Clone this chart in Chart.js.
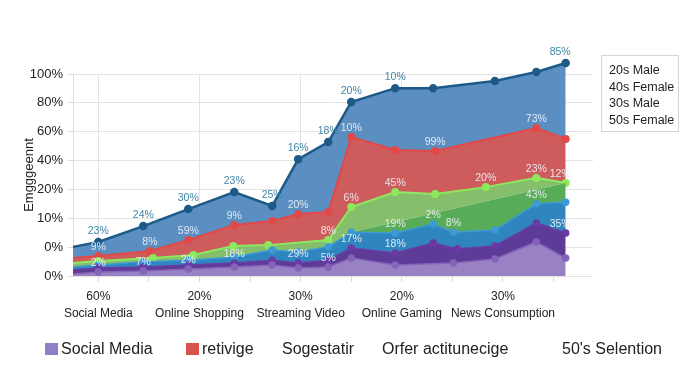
<!DOCTYPE html>
<html><head><meta charset="utf-8">
<script src="https://cdn.jsdelivr.net/npm/chart.js@4/dist/chart.umd.min.js"></script>
<style>
html,body{margin:0;padding:0;background:#fff;}
#wrap{position:relative;width:700px;height:382px;font-family:"Liberation Sans",Arial,sans-serif;color:#222;}
canvas{position:absolute;left:0;top:0;}
.lg{position:absolute;font-size:16px;white-space:nowrap;line-height:18px;top:340px;}
.box{display:inline-block;width:13px;height:12px;margin-right:3px;vertical-align:-1px;}
#rlg{position:absolute;left:601px;top:55px;width:78px;height:77px;border:1px solid #d6d6d6;font-size:12.5px;line-height:16.6px;padding:6px 0 0 7px;box-sizing:border-box;white-space:nowrap;}
</style></head>
<body><div id="wrap"><canvas id="c" width="700" height="382"></canvas>
<div id="rlg"></div>
<div id="blg"></div>
</div>
<script>
// ---- data ----
const categories = ['Social Media','Online Shopping','Streaming Video','Online Gaming','News Consumption'];
const categoryShares = ['60%','20%','30%','20%','30%'];
const yTickLabels = ['0%','0%','10%','20%','40%','60%','80%','100%'];
const yAxisTitle = 'Emgggeennt';
const rightLegendNames = ['20s Male','40s Female','30s Male','50s Female'];
const bottomLegendNames = ['Social Media','retivige','Sogestatir','Orfer actitunecige',"50's Selention"];

const lightPurpleX = [-0.25,0,0.445,0.889,1.344,1.719,1.976,2.273,2.5,2.935,3.51,3.92,4.33,4.62];
const lightPurpleY = [0.7,1.4,1.7,2.4,3.1,3.8,2.8,3.1,6.2,3.8,4.5,5.9,11.8,6.2];
const lightPurpleLabels = [null,'2%','7%','2%',null,null,null,'5%',null,null,null,null,null,null];

const darkPurpleX = [-0.25,0,0.445,0.889,1.344,1.719,1.976,2.273,2.5,2.935,3.31,3.55,3.92,4.33,4.62];
const darkPurpleY = [2.1,2.8,3.1,3.8,4.5,5.5,4.5,5.5,9.7,8.0,11.4,9.4,10.4,18.4,14.9];
const darkPurpleLabels = [null,null,null,null,'18%',null,'29%',null,'17%','18%',null,null,null,null,'35%'];

const blueX = [-0.25,0,0.445,0.889,1.344,1.719,1.976,2.273,2.5,2.935,3.31,3.51,3.92,4.33,4.62];
const blueY = [3.1,3.8,4.9,5.5,6.6,9.0,8.3,10.1,15.2,14.9,18.0,15.2,15.9,25.0,25.6];
const blueLabels = [null,null,null,null,null,null,null,null,null,'19%','2%','8%',null,'43%',null];

const darkGreenX = [-0.25,0,0.445,0.889,1.344,1.719,1.976,2.273,2.5,4.62];
const darkGreenY = [3.1,3.8,4.9,5.5,6.6,9.0,8.3,10.1,15.2,32.2];

const greenX = [-0.25,0,0.54,0.94,1.334,1.68,2.273,2.5,2.935,3.33,3.83,4.33,4.62];
const greenY = [4.5,5.2,6.2,7.3,10.4,10.7,12.5,23.9,29.1,28.4,30.8,34.0,32.2];
const greenLabels = [null,null,null,null,null,null,'8%','6%','45%',null,'20%','23%','12%'];

const redX = [-0.25,0,0.51,0.89,1.344,1.719,1.976,2.273,2.5,2.935,3.33,4.33,4.62];
const redY = [6.2,6.9,8.7,12.5,17.7,19.1,21.5,22.2,48.2,43.7,43.3,51.3,47.5];
const redLabels = [null,'9%','8%','59%','9%',null,'20%',null,'10%',null,'99%','73%',null];

const topX = [-0.25,0,0.445,0.889,1.344,1.719,1.976,2.273,2.5,2.935,3.31,3.92,4.33,4.62];
const topY = [10.1,11.8,17.3,23.2,29.1,24.3,40.5,46.4,60.3,65.1,65.1,67.6,70.7,73.8];
const topLabels = [null,'23%','24%','30%','23%','25%','16%','18%','20%','10%',null,null,null,'85%'];

// ---- build ----
const pts = (xs, ys) => xs.map((x, i) => ({x: x, y: ys[i]}));
const FONT = '"Liberation Sans", Arial, sans-serif';
const innerLabel = 'rgba(236,240,248,0.92)';

function series(name, xs, ys, labels, line, fillCol, fillTo, lw, opts) {
  return Object.assign({
    label: name,
    data: pts(xs, ys),
    borderColor: line,
    backgroundColor: fillCol,
    pointBackgroundColor: line,
    pointBorderColor: line,
    borderWidth: lw,
    pointRadius: c => (c.raw && c.raw.x < -0.2) ? 0 : 3,
    pointHoverRadius: 3,
    fill: fillTo,
    tension: 0,
    clip: false,
    valueLabels: labels,
    valueLabelColor: innerLabel,
    valueLabelOffset: 9
  }, opts || {});
}

const datasets = [
  series('Social Media', lightPurpleX, lightPurpleY, lightPurpleLabels, '#8463b8', '#9882c3', 'origin', 1.5),
  series('retivige', darkPurpleX, darkPurpleY, darkPurpleLabels, '#6a3aa6', '#5c3c97', '-1', 1.5),
  series('Sogestatir', blueX, blueY, blueLabels, '#3c9ad6', '#2f85bd', '-1', 1.5),
  series('Orfer actitunecige', darkGreenX, darkGreenY, null, 'rgba(0,0,0,0)', '#58ac58', '-1', 0, {pointRadius: 0}),
  series('50\'s Selention', greenX, greenY, greenLabels, '#8ce95e', '#86bf6b', '-1', 2),
  series('40s Female', redX, redY, redLabels, '#e24848', '#cf5c5c', '-1', 2),
  series('20s Male', topX, topY, topLabels, '#1e5a88', '#5b8ec1', '-1', 2.5,
         {valueLabelColor: '#3f86a6', valueLabelOffset: 11})
];

// let the top series rise a little above the 100% grid line (as in the picture)
const overflowPlugin = {
  id: 'overflowArea',
  beforeDatasetsDraw(chart) {
    const a = chart.chartArea;
    chart.$savedTop = a.top;
    a.top = 0; a.height = a.bottom - a.top;
  },
  afterDatasetsDraw(chart) {
    const a = chart.chartArea;
    a.top = chart.$savedTop; a.height = a.bottom - a.top;
  }
};

const valueLabelPlugin = {
  id: 'valueLabels',
  afterDatasetsDraw(chart) {
    const ctx = chart.ctx;
    chart.data.datasets.forEach((ds, i) => {
      if (!ds.valueLabels) return;
      const meta = chart.getDatasetMeta(i);
      ctx.save();
      ctx.font = '10.5px ' + FONT;
      ctx.fillStyle = ds.valueLabelColor;
      ctx.textBaseline = 'middle';
      const last = ds.valueLabels.length - 1;
      ds.valueLabels.forEach((t, j) => {
        if (!t) return;
        const p = meta.data[j];
        if (j === last) { ctx.textAlign = 'right'; ctx.fillText(t, p.x + 5, p.y - ds.valueLabelOffset); }
        else { ctx.textAlign = 'center'; ctx.fillText(t, p.x, p.y - ds.valueLabelOffset); }
      });
      ctx.restore();
    });
  }
};

new Chart(document.getElementById('c'), {
  type: 'line',
  data: {datasets: datasets},
  options: {
    responsive: false,
    animation: false,
    events: [],
    layout: {padding: {top: 74, right: 107, bottom: 0, left: 0}},
    plugins: {legend: {display: false}, tooltip: {enabled: false}, filler: {propagate: false}},
    scales: {
      x: {
        type: 'linear', min: -0.25, max: 4.89,
        afterBuildTicks: s => { s.ticks = [0,0.5,1,1.5,2,2.5,3,3.5,4,4.5].map(v => ({value: v})); },
        afterFit: s => { s.height = 106; },
        grid: {
          color: c => (c.tick && Number.isInteger(c.tick.value)) ? '#e2e2e2' : 'rgba(0,0,0,0)',
          tickColor: '#d8d8d8', tickLength: 6, drawOnChartArea: true
        },
        border: {display: false},
        ticks: {
          autoSkip: false, maxRotation: 0, padding: 6, color: '#222',
          font: {family: FONT, size: 12, lineHeight: 1.4},
          callback: v => Number.isInteger(v) ? [categoryShares[v], categories[v]] : ''
        }
      },
      y: {
        min: 0, max: 70,
        afterBuildTicks: s => { s.ticks = [0,10,20,30,40,50,60,70].map(v => ({value: v})); },
        afterFit: s => { s.width = 73; },
        grid: {color: '#e3e3e3', tickColor: '#dcdcdc', tickLength: 5},
        border: {display: true, color: '#dcdcdc'},
        ticks: {
          padding: 5, color: '#222', font: {family: FONT, size: 13},
          callback: v => yTickLabels[Math.round(v / 10)]
        },
        title: {display: true, text: yAxisTitle, color: '#222', font: {family: FONT, size: 13}, padding: {top: 22, bottom: 0}}
      }
    }
  },
  plugins: [overflowPlugin, valueLabelPlugin]
});

// legends (text)
document.getElementById('rlg').innerHTML = rightLegendNames.map(n => '<div>' + n + '</div>').join('');
const legendLeft = [45, 186, 282, 382, 562];
const legendBoxes = ['#8f7fc6', '#d9534f', null, null, null];
document.getElementById('blg').innerHTML = bottomLegendNames.map((n, i) =>
  '<div class="lg" style="left:' + legendLeft[i] + 'px">' +
  (legendBoxes[i] ? '<span class="box" style="background:' + legendBoxes[i] + '"></span>' : '') + n + '</div>').join('');
</script>
</body></html>
